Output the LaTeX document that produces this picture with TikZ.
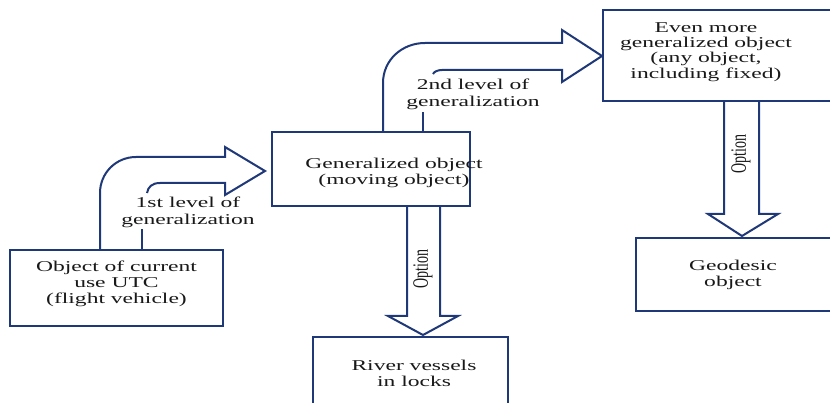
\documentclass[tikz,border=0pt]{standalone}
\usepackage{fontspec}
\setmainfont{Liberation Serif}[FakeStretch=1.57]
\newfontfamily\uprightserif{Liberation Serif}
\usepackage{graphicx}
\definecolor{framecol}{RGB}{31,56,120}
\definecolor{inkcol}{RGB}{25,25,25}
\tikzset{
  box/.style={draw=framecol, line width=2pt, inner sep=0pt, fill=white},
  txt/.style={text=inkcol, align=center, inner sep=0pt,
    font=\fontsize{15}{16}\selectfont},
  blockarrow/.style={draw=framecol, line width=2pt, line join=miter},
  optlabel/.style={text=inkcol, rotate=90, inner sep=0pt,
    font=\uprightserif\fontsize{14}{16}\selectfont}
}
\begin{document}
\begin{tikzpicture}[x=1pt,y=-1pt]
  \useasboundingbox (0,0) rectangle (830,403);
  \fill[white] (0,0) rectangle (830,403);
  \clip (0,0) rectangle (830,403);

  % boxes
  \node[box, minimum width=213pt, minimum height=76pt] (b1) at (116.5,288) {};
  \node[box, minimum width=198pt, minimum height=74pt] (b2) at (371,169) {};
  \node[box, minimum width=247pt, minimum height=91pt] (b3) at (726.5,55.5) {};
  \node[box, minimum width=214pt, minimum height=73pt] (b4) at (743,274.5) {};
  \node[box, minimum width=195pt, minimum height=83pt] (b5) at (410.5,378.5) {};

  % box texts
  \node[txt] (t1) at (116.5,284) {Object of current\\use UTC\\(flight vehicle)};
  \node[txt] (t2) at (394,173) {Generalized object\\(moving object)};
  \node[txt, font=\fontsize{15}{15.4}\selectfont] (t3) at (706,52)
    {Even more\\generalized object\\(any object,\\including fixed)};
  \node[txt] (t4) at (733,274.5) {Geodesic\\object};
  \node[txt] (t5) at (414,373.5) {River vessels\\in locks};

  % first bent arrow: b1 -> b2
  \draw[blockarrow] (100,0 |- b1.north) -- (100,193)
    .. controls (100,173) and (116,157) .. (136,157)
    -- (225,157) -- (225,147) -- (265,171) -- (225,195) -- (225,183)
    -- (160,183) .. controls (152,183) and (148,187) .. (147,193);
  \draw[blockarrow] (142,0 |- b1.north) -- (142,229);
  \node[txt, font=\fontsize{15}{16.5}\selectfont] (l1) at (188,212.5)
    {1st level of\\generalization};

  % second bent arrow: b2 -> b3
  \draw[blockarrow] (383,0 |- b2.north) -- (383,83)
    .. controls (383,60) and (402,43) .. (425,43)
    -- (562,43) -- (562,30) -- (0,56 -| b3.west) -- (562,82) -- (562,70)
    -- (442,70) .. controls (437,70) and (434,72) .. (433,74);
  \draw[blockarrow] (423,0 |- b2.north) -- (423,112);
  \node[txt, font=\fontsize{15}{16.5}\selectfont] (l2) at (473,94.5)
    {2nd level of\\generalization};

  % option arrows
  \draw[blockarrow] (407,0 |- b2.south) -- (407,316) -- (388,316)
    -- (423,335) -- (458,316) -- (440,316) -- (440,0 |- b2.south);
  \node[optlabel] (o1) at (423,269) {\scalebox{1}[1.57]{Option}};

  \draw[blockarrow] (724,0 |- b3.south) -- (724,214) -- (708,214)
    -- (742,236) -- (778,214) -- (759,214) -- (759,0 |- b3.south);
  \node[optlabel] (o2) at (741,154) {\scalebox{1}[1.57]{Option}};
\end{tikzpicture}
\end{document}
